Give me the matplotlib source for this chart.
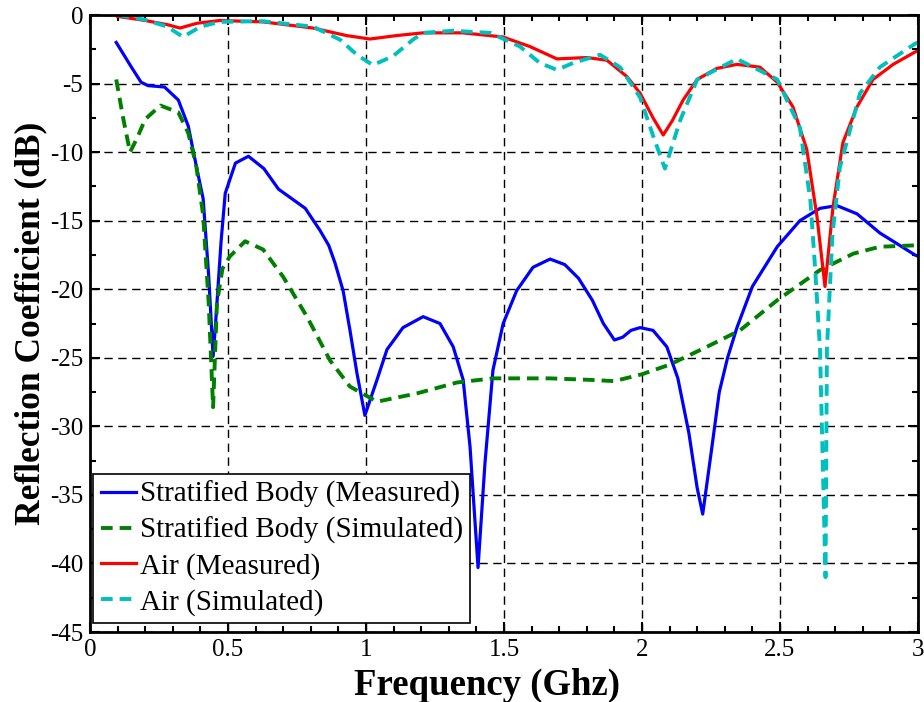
import numpy as np
from matplotlib import pyplot as plt

# frequency (GHz) / reflection coefficient (dB)
f_body_meas = [0.095, 0.15, 0.185, 0.21, 0.27, 0.32, 0.356, 0.385, 0.41, 0.43, 0.446, 0.455, 0.465, 0.475, 0.49,
               0.527, 0.574, 0.63, 0.683, 0.78, 0.833, 0.865, 0.888, 0.917, 0.942, 0.967, 0.996, 1.04, 1.076,
               1.134, 1.207, 1.268, 1.316, 1.352, 1.377, 1.406, 1.431, 1.46, 1.497, 1.546, 1.605, 1.667, 1.72,
               1.77, 1.82, 1.86, 1.9, 1.93, 1.96, 1.993, 2.04, 2.09, 2.13, 2.17, 2.2, 2.22, 2.25, 2.28,
               2.31, 2.344, 2.4, 2.49, 2.572, 2.645, 2.706, 2.779, 2.862, 2.91, 2.989, 3.0]
db_body_meas = [-2.0, -3.8, -4.9, -5.15, -5.25, -6.2, -8.1, -11.0, -13.4, -19.0, -24.9, -22.5, -19.5, -16.5, -13.0,
                -10.8, -10.3, -11.2, -12.7, -14.1, -15.7, -16.8, -18.1, -20.1, -23.0, -26.1, -29.2, -26.6, -24.4,
                -22.8, -22.0, -22.5, -24.2, -26.6, -31.5, -40.3, -32.7, -25.9, -22.5, -20.1, -18.4, -17.8, -18.2,
                -19.2, -20.8, -22.5, -23.7, -23.5, -23.0, -22.8, -23.0, -24.2, -26.5, -30.5, -34.5, -36.4, -32.0, -27.5,
                -25.0, -22.8, -19.8, -16.9, -15.0, -14.1, -13.9, -14.5, -15.9, -16.5, -17.5, -17.6]

f_body_sim = [0.095, 0.12, 0.145, 0.17, 0.2, 0.255, 0.32, 0.356, 0.385, 0.41, 0.43, 0.446, 0.46, 0.48, 0.507,
              0.562, 0.627, 0.7, 0.786, 0.87, 0.942, 1.04, 1.184, 1.33, 1.46, 1.667, 1.8, 1.9, 2.0, 2.1,
              2.235, 2.355, 2.49, 2.645, 2.766, 2.862, 2.989, 3.0]
db_body_sim = [-4.7, -7.5, -10.0, -9.0, -7.6, -6.6, -7.1, -8.6, -11.0, -14.6, -21.0, -28.6, -21.0, -18.5, -17.6,
               -16.5, -17.1, -19.1, -22.0, -25.2, -27.1, -28.2, -27.6, -26.8, -26.5, -26.5, -26.6, -26.7, -26.2, -25.5,
               -24.2, -23.0, -20.8, -18.6, -17.4, -16.9, -16.8, -16.8]

f_air_meas = [0.1, 0.2, 0.28, 0.326, 0.388, 0.47, 0.627, 0.808, 0.93, 1.014, 1.11, 1.207, 1.35, 1.496, 1.594,
              1.692, 1.8, 1.873, 1.946, 1.993, 2.04, 2.077, 2.11, 2.149, 2.2, 2.27, 2.344, 2.427, 2.49,
              2.547, 2.597, 2.634, 2.663, 2.692, 2.728, 2.779, 2.837, 2.91, 2.989, 3.0]
db_air_meas = [-0.1, -0.4, -0.7, -0.95, -0.6, -0.4, -0.5, -0.95, -1.5, -1.75, -1.5, -1.3, -1.3, -1.6, -2.3,
               -3.2, -3.1, -3.3, -4.5, -5.7, -7.5, -8.75, -7.7, -6.2, -4.7, -3.9, -3.6, -3.8, -4.9,
               -6.7, -9.8, -14.7, -19.8, -14.0, -9.3, -6.7, -4.7, -3.6, -2.7, -2.6]

f_air_sim = [0.1, 0.2, 0.28, 0.337, 0.4, 0.47, 0.627, 0.808, 0.906, 0.967, 1.025, 1.098, 1.17, 1.207, 1.315,
             1.45, 1.558, 1.63, 1.692, 1.75, 1.848, 1.92, 1.993, 2.04, 2.083, 2.138, 2.2, 2.344, 2.49,
             2.572, 2.61, 2.627, 2.645, 2.665, 2.67, 2.69, 2.717, 2.79, 2.862, 2.989, 3.0]
db_air_sim = [0.0, -0.35, -0.85, -1.6, -0.85, -0.5, -0.45, -0.85, -1.8, -2.9, -3.65, -3.0, -1.8, -1.3, -1.15,
              -1.3, -2.3, -3.5, -4.0, -3.5, -2.9, -3.8, -6.0, -8.8, -11.2, -7.7, -4.7, -3.2, -4.7,
              -8.2, -13.5, -18.4, -24.4, -41.0, -24.4, -16.0, -11.1, -5.7, -3.8, -2.1, -2.0]

plt.rcParams['font.family'] = ['Liberation Serif', 'DejaVu Serif']
plt.rcParams['axes.unicode_minus'] = False

fig = plt.figure(figsize=(9.24, 7.02), dpi=100)
ax = fig.add_axes([0.0974, 0.0997, 0.8961, 0.8789])

ax.plot(f_body_meas, db_body_meas, color='#0000ff', lw=2.3, label='Stratified Body (Measured)')
ax.plot(f_body_sim, db_body_sim, color='#008000', lw=2.8, ls=(0, (3, 1.8)), label='Stratified Body (Simulated)')
ax.plot(f_air_meas, db_air_meas, color='#ff0000', lw=2.3, label='Air (Measured)')
ax.plot(f_air_sim, db_air_sim, color='#00bfbf', lw=2.8, ls=(0, (3, 1.8)), label='Air (Simulated)')

ax.set_xlim(0, 3)
ax.set_ylim(-45, 0)
ax.set_xticks(np.arange(0, 3.01, 0.5))
ax.set_xticklabels(['0', '0.5', '1', '1.5', '2', '2.5', '3'])
ax.set_yticks(np.arange(-45, 0.1, 5))
ax.set_xticks(np.arange(0, 3.01, 0.1), minor=True)
ax.set_yticks(np.arange(-45, 0.1, 2.5), minor=True)
ax.tick_params(which='both', direction='in', top=True, right=True, labelsize=18, width=1.5)
ax.tick_params(which='major', length=7, pad=5)
ax.tick_params(which='minor', length=4)
ax.grid(True, color='black', ls=(0, (6, 4)), lw=1)
for s in ax.spines.values():
    s.set_linewidth(2)

ax.set_xlabel('Frequency (Ghz)', fontsize=26.5, fontweight='bold', labelpad=7)
ax.xaxis.set_label_coords(0.48, -0.058, transform=ax.transAxes)
ax.xaxis.label.set_va('top')
ax.set_ylabel('Reflection Coefficient (dB)', fontsize=25.5, fontweight='bold', labelpad=2)

leg = ax.legend(loc='lower left', bbox_to_anchor=(0.004, 0.0146), fontsize=21, handlelength=1.2,
                handletextpad=0.15, borderaxespad=0, borderpad=0.25, labelspacing=0.3, fancybox=False,
                framealpha=1, edgecolor='black')
leg.get_frame().set_linewidth(1.2)

fig.savefig('out.png', dpi=100)
